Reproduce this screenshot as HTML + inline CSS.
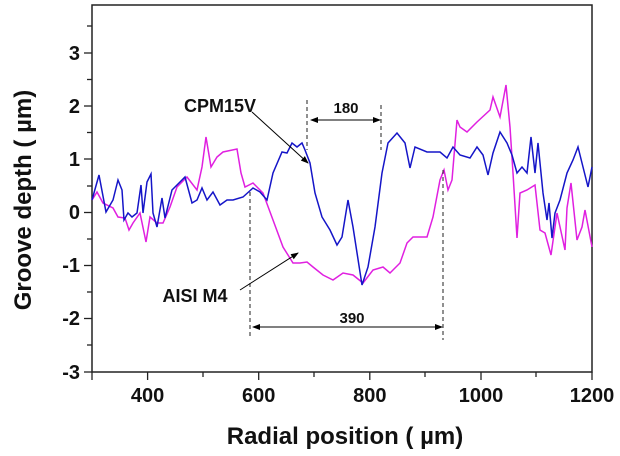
<!DOCTYPE html>
<html><head><meta charset="utf-8"><style>
body{margin:0;background:#fff;}
svg{display:block;}
text{font-family:"Liberation Sans",sans-serif;font-weight:bold;fill:#111;}
</style></head><body>
<svg width="620" height="456" viewBox="0 0 620 456">
<defs>
<marker id="ah" markerWidth="8" markerHeight="6" refX="7" refY="3" orient="auto"><path d="M0,0 L8,3 L0,6 z" fill="#000"/></marker>
<marker id="as" markerWidth="8" markerHeight="6" refX="1" refY="3" orient="auto"><path d="M8,0 L0,3 L8,6 z" fill="#000"/></marker>
</defs>
<rect x="92" y="5" width="500" height="367" fill="none" stroke="#222" stroke-width="1.5"/>
<g stroke="#222" stroke-width="1.3">
<line x1="87" y1="26" x2="92" y2="26"/><line x1="84" y1="53" x2="92" y2="53"/>
<line x1="87" y1="79.5" x2="92" y2="79.5"/><line x1="84" y1="106" x2="92" y2="106"/>
<line x1="87" y1="132.5" x2="92" y2="132.5"/><line x1="84" y1="159" x2="92" y2="159"/>
<line x1="87" y1="186" x2="92" y2="186"/><line x1="84" y1="212.5" x2="92" y2="212.5"/>
<line x1="87" y1="239" x2="92" y2="239"/><line x1="84" y1="265.5" x2="92" y2="265.5"/>
<line x1="87" y1="292" x2="92" y2="292"/><line x1="84" y1="318.5" x2="92" y2="318.5"/>
<line x1="87" y1="345" x2="92" y2="345"/><line x1="84" y1="372" x2="92" y2="372"/>
<line x1="92" y1="372" x2="92" y2="380"/><line x1="147.6" y1="372" x2="147.6" y2="380"/>
<line x1="203" y1="372" x2="203" y2="377"/><line x1="258.7" y1="372" x2="258.7" y2="380"/>
<line x1="314" y1="372" x2="314" y2="377"/><line x1="369.8" y1="372" x2="369.8" y2="380"/>
<line x1="425" y1="372" x2="425" y2="377"/><line x1="481" y1="372" x2="481" y2="380"/>
<line x1="536" y1="372" x2="536" y2="377"/><line x1="592" y1="372" x2="592" y2="380"/>
</g>
<g font-size="20" text-anchor="end">
<text x="80" y="60">3</text><text x="80" y="113">2</text><text x="80" y="166">1</text>
<text x="80" y="219">0</text><text x="80" y="272">-1</text><text x="80" y="325">-2</text><text x="80" y="379">-3</text>
</g>
<g font-size="20" text-anchor="middle">
<text x="147.6" y="402">400</text><text x="258.7" y="402">600</text><text x="369.8" y="402">800</text>
<text x="481" y="402">1000</text><text x="592" y="402">1200</text>
</g>
<text x="345" y="444" font-size="24" text-anchor="middle">Radial position ( µm)</text>
<text transform="translate(31,200) rotate(-90)" font-size="24" text-anchor="middle">Groove depth ( µm)</text>
<polyline fill="none" stroke="#e020e0" stroke-width="1.5" points="92,200 97,192 103,203 113,208 118,217 125,218 129,230 133,223 140,213 146,242 150,217 157,223 163,223 170,207 177,187 187,177 197,190 202,167 206,137 211,167 217,157 223,152 237,149 241,173 245,187 253,183 263,193 273,220 283,247 293,263 300,263 307,262 313,267 323,275 333,280 343,273 353,275 363,283 373,270 383,267 390,273 400,263 407,243 413,237 427,237 433,217 440,180 444,170 448,190 452,180 457,120 460,127 467,132 477,122 490,110 493,97 500,117 506,85 510,127 513,173 517,238 520,193 527,190 535,185 540,230 545,233 551,255 557,213 565,250 567,208 571,183 577,240 582,227 585,210 592,247"/>
<polyline fill="none" stroke="#1515c8" stroke-width="1.5" points="92,200 99,175 106,212 113,200 118,180 122,190 124,220 128,213 132,217 137,213 141,185 143,213 147,182 151,174 153,213 157,227 162,198 165,218 172,190 180,182 185,177 192,203 197,200 202,188 207,200 213,192 220,205 227,200 233,200 243,197 253,188 260,192 267,200 273,173 282,152 287,153 292,143 297,147 302,143 305,150 310,163 315,193 322,217 330,230 337,245 342,237 348,200 353,227 362,285 368,267 375,227 382,173 388,143 397,133 405,143 410,168 415,147 427,152 440,152 447,158 453,147 460,155 470,158 477,147 483,155 488,175 493,153 500,132 507,143 512,155 517,173 522,167 527,173 531,137 535,173 538,143 543,193 547,220 549,203 552,238 555,213 560,200 567,173 573,160 578,147 583,167 588,187 592,167"/>
<g stroke="#222" stroke-width="1" stroke-dasharray="4,3">
<line x1="250" y1="192" x2="250" y2="337"/><line x1="307" y1="100" x2="307" y2="150"/>
<line x1="381" y1="105" x2="381" y2="150"/><line x1="443" y1="170" x2="443" y2="340"/>
</g>
<g stroke="#000" stroke-width="1">
<line x1="311" y1="120" x2="380" y2="120" marker-start="url(#as)" marker-end="url(#ah)"/>
<line x1="253" y1="327" x2="442" y2="327" marker-start="url(#as)" marker-end="url(#ah)"/>
<line x1="252" y1="112" x2="308" y2="163" marker-end="url(#ah)"/>
<line x1="240" y1="290" x2="298" y2="253" marker-end="url(#ah)"/>
</g>
<text x="346" y="113" font-size="15" text-anchor="middle">180</text>
<text x="352" y="323" font-size="15" text-anchor="middle">390</text>
<text x="220" y="112" font-size="18" text-anchor="middle">CPM15V</text>
<text x="195" y="302" font-size="18" text-anchor="middle">AISI M4</text>
</svg>
</body></html>
